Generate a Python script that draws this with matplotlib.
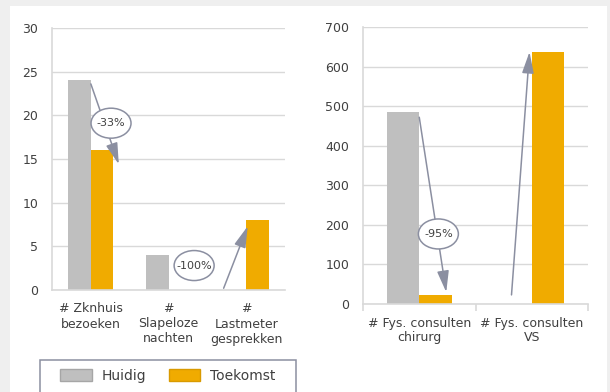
import matplotlib.pyplot as plt
from matplotlib.patches import Rectangle, Patch, Ellipse
from matplotlib.transforms import ScaledTranslation

# data
cats_left = ["# Zknhuis\nbezoeken", "#\nSlapeloze\nnachten", "#\nLastmeter\ngesprekken"]
huidig_left = [24, 4, 0]
toekomst_left = [16, 0, 8]

cats_right = ["# Fys. consulten\nchirurg", "# Fys. consulten\nVS"]
huidig_right = [485, 0]
toekomst_right = [22, 637]

grey = "#bfbfbf"
orange = "#f0ab00"
arrowc = "#8b8fa1"
gridc = "#d9d9d9"
txtc = "#404040"

plt.rcParams['font.family'] = 'DejaVu Sans'

fig = plt.figure(figsize=(6.10, 3.92), dpi=100, facecolor="#efefef")
fig.patches.append(Rectangle((10/610, 0), 597/610, 1-6/392, transform=fig.transFigure,
                             facecolor="white", edgecolor="none", zorder=-5))

ax1 = fig.add_axes([52/610, 1-290/392, 233/610, 262/392])
ax2 = fig.add_axes([363/610, 1-304/392, 225/610, 277/392])

w = 0.29


def style(ax, ymax, step):
    ax.set_facecolor("none")
    ax.set_ylim(0, ymax)
    ax.set_yticks(range(0, ymax+1, step))
    ax.grid(axis="y", color=gridc, lw=1)
    ax.set_axisbelow(True)
    for s in ["top", "right"]:
        ax.spines[s].set_visible(False)
    for s in ["left", "bottom"]:
        ax.spines[s].set_color(gridc)
        ax.spines[s].set_linewidth(1.2)
    ax.tick_params(axis="y", length=0, pad=10, labelsize=9, colors=txtc)
    ax.tick_params(axis="x", length=0, pad=9, labelsize=9, colors=txtc)


def ann(ax, start, end, label=None, lpos=None):
    ax.annotate("", xy=end, xytext=start,
                arrowprops=dict(arrowstyle="-|>,head_length=0.65,head_width=0.18",
                                color=arrowc, lw=1.1, mutation_scale=20,
                                shrinkA=0, shrinkB=0))
    if label:
        # fixed-size ellipse (in inches) centred on the label position
        tr = fig.dpi_scale_trans + ScaledTranslation(lpos[0], lpos[1], ax.transData)
        ax.add_patch(Ellipse((0, 0), 0.40, 0.30, transform=tr, fc="white",
                             ec=arrowc, lw=1.1, zorder=4, clip_on=False))
        ax.text(lpos[0], lpos[1], label, ha="center", va="center", fontsize=8,
                color=txtc, zorder=5)


x1 = range(len(cats_left))
ax1.bar([i - w/2 for i in x1], huidig_left, w, color=grey)
ax1.bar([i + w/2 for i in x1], toekomst_left, w, color=orange)
ax1.set_xlim(-0.5, 2.5)
style(ax1, 30, 5)
ax1.set_xticks(list(x1))
ax1.set_xticklabels(cats_left, linespacing=1.2)
ann(ax1, (0.0, 23.6), (0.36, 14.4), "-33%", (0.26, 19.1))
ann(ax1, (1.02, 3.8), (1.21, -0.1), "-100%", (1.33, 2.8))
ann(ax1, (1.71, 0.2), (2.02, 7.3))

x2 = range(len(cats_right))
ax2.bar([i - w/2 for i in x2], huidig_right, w, color=grey)
ax2.bar([i + w/2 for i in x2], toekomst_right, w, color=orange)
ax2.set_xlim(-0.5, 1.5)
style(ax2, 700, 100)
ax2.set_xticks(list(x2))
ax2.set_xticklabels(cats_right, linespacing=1.15)
ax2.set_xticks([-0.5, 0.5, 1.5], minor=True)
ax2.tick_params(axis="x", which="minor", length=5, color=gridc, width=1.2)
ann(ax2, (0.0, 472), (0.24, 30), "-95%", (0.17, 177))
ann(ax2, (0.82, 23), (0.98, 637))

# legend box
fig.patches.append(Rectangle((40/610, -0.05), 256/610, 0.05 + 1-360/392,
                             transform=fig.transFigure, fc="white", ec=arrowc,
                             lw=1.1, zorder=1))
handles = [Patch(facecolor=grey, edgecolor="#a6a6a6", label="Huidig"),
           Patch(facecolor=orange, edgecolor="#d99a00", label="Toekomst")]
leg = fig.legend(handles=handles, loc="upper left", bbox_to_anchor=(60/610, 1-369/392),
                 ncol=2, frameon=False, fontsize=10,
                 handlelength=2.3, handleheight=1.0, handletextpad=0.7,
                 columnspacing=1.6, borderpad=0, borderaxespad=0)
leg.set_zorder(3)
for t in leg.get_texts():
    t.set_color(txtc)

fig.savefig("out.png", dpi=100, facecolor=fig.get_facecolor())
